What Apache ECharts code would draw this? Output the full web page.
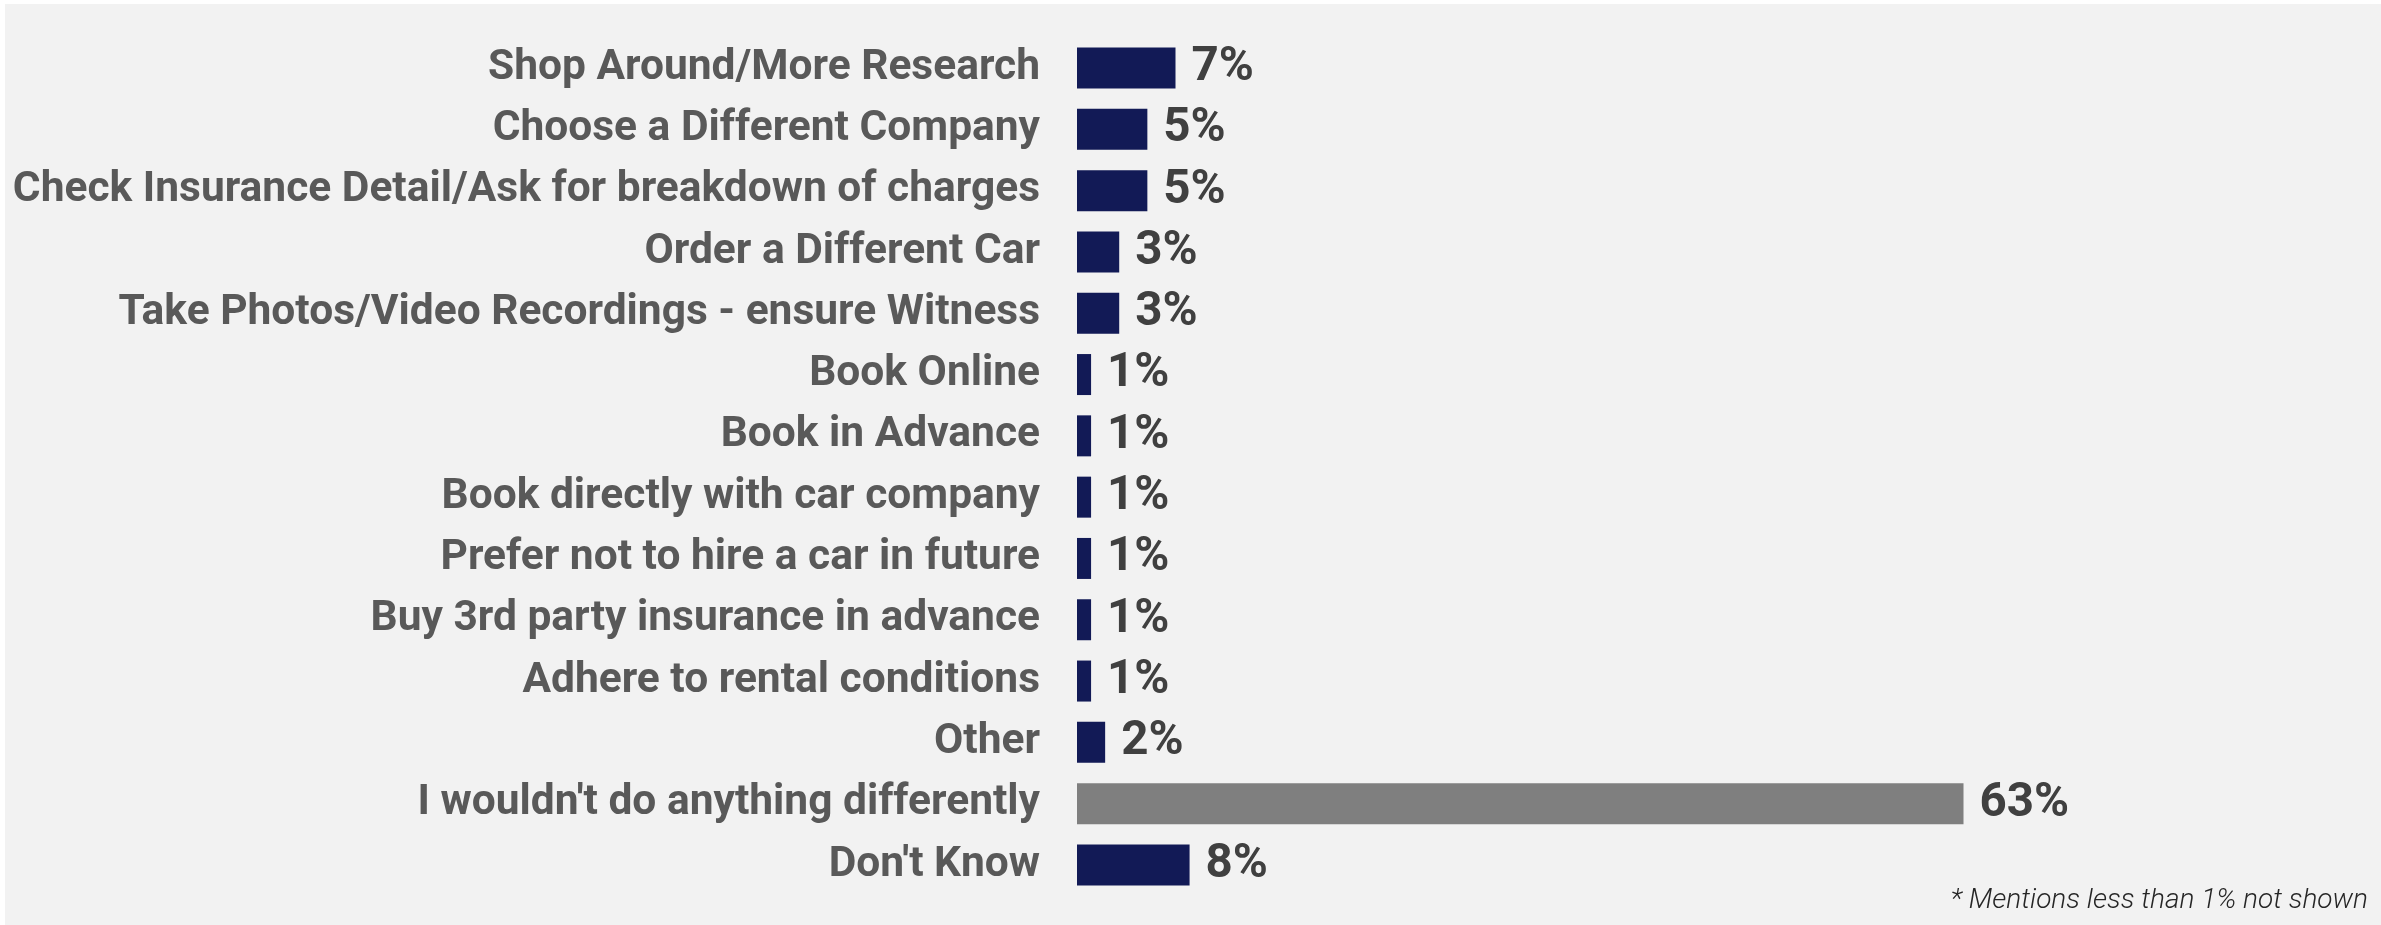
<!DOCTYPE html>
<html>
<head>
<meta charset="utf-8">
<script src="https://cdn.jsdelivr.net/npm/echarts@6/dist/echarts.min.js"></script>
<style>
  html, body { margin: 0; padding: 0; background: #ffffff; width: 2381px; height: 925px; overflow: hidden; }
  #chart { position: absolute; left: 5px; top: 4px; width: 2376px; height: 921px; background: #f2f2f2; }
</style>
</head>
<body>
<div id="chart"></div>
<script>
// Survey answers: what respondents would do differently next time
const categories = [
  'Shop Around/More Research',
  'Choose a Different Company',
  'Check Insurance Detail/Ask for breakdown of charges',
  'Order a Different Car',
  'Take Photos/Video Recordings - ensure Witness',
  'Book Online',
  'Book in Advance',
  'Book directly with car company',
  'Prefer not to hire a car in future',
  'Buy 3rd party insurance in advance',
  'Adhere to rental conditions',
  'Other',
  "I wouldn't do anything differently",
  "Don't Know"
];
const values = [7, 5, 5, 3, 3, 1, 1, 1, 1, 1, 1, 2, 63, 8];
const highlighted = ["I wouldn't do anything differently"];
const footnote = '* Mentions less than 1% not shown';

const NAVY = '#121a56';
const GREY = '#7f7f7f';

const chart = echarts.init(document.getElementById('chart'), null, { renderer: 'canvas' });

chart.setOption({
  backgroundColor: '#f2f2f2',
  animation: false,
  grid: { left: 1072, right: 319, top: 33.4, bottom: 29.4, containLabel: false },
  xAxis: {
    type: 'value',
    min: 0,
    max: 70,
    show: false
  },
  yAxis: {
    type: 'category',
    inverse: true,
    data: categories,
    axisLine: { show: false },
    axisTick: { show: false },
    splitLine: { show: false },
    axisLabel: {
      margin: 37,
      color: '#595959',
      fontFamily: 'Roboto',
      fontWeight: 'bold',
      fontSize: 42.5
    }
  },
  series: [{
    type: 'bar',
    barWidth: 41,
    data: categories.map((c, i) => ({
      value: values[i],
      itemStyle: { color: highlighted.includes(c) ? GREY : NAVY }
    })),
    label: {
      show: true,
      position: 'right',
      distance: 16,
      formatter: p => p.value + '%',
      color: '#404040',
      fontFamily: 'Roboto',
      fontWeight: 'bold',
      fontSize: 47.5
    }
  }],
  graphic: [{
    type: 'text',
    right: 13,
    top: 883,
    style: {
      text: footnote,
      fill: '#262626',
      font: 'italic 300 28px Roboto',
      textAlign: 'right'
    }
  }]
});
</script>
</body>
</html>
